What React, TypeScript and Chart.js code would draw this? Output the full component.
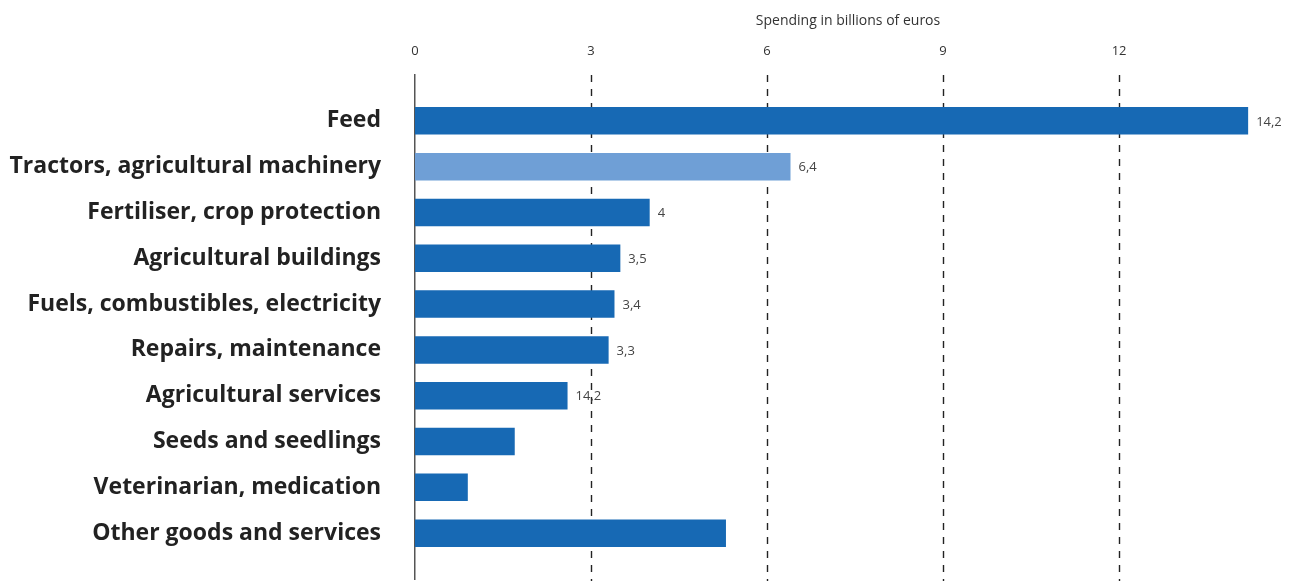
import React, { useEffect, useRef } from "react";
import { Chart, registerables } from "chart.js";

Chart.register(...registerables);

const categories = [
  "Feed",
  "Tractors, agricultural machinery",
  "Fertiliser, crop protection",
  "Agricultural buildings",
  "Fuels, combustibles, electricity",
  "Repairs, maintenance",
  "Agricultural services",
  "Seeds and seedlings",
  "Veterinarian, medication",
  "Other goods and services",
];

const spending = [14.2, 6.4, 4.0, 3.5, 3.4, 3.3, 2.6, 1.7, 0.9, 5.3];

const valueLabels = ["14,2", "6,4", "4", "3,5", "3,4", "3,3", "14,2", "", "", ""];

const xTicks = [0, 3, 6, 9, 12];

const axisTitle = "Spending in billions of euros";

const DARK = "#1769b4";
const LIGHT = "#6f9fd6";

export default function App() {
  const ref = useRef<HTMLCanvasElement | null>(null);

  useEffect(() => {
    document.body.style.margin = "0";
    const canvas = ref.current;
    if (!canvas) return;

    const labels = ["", ...categories, ""];
    const data = [null, ...spending, null];
    const texts = ["", ...valueLabels, ""];
    const colors = labels.map((_, i) => (i === 2 ? LIGHT : DARK));

    const dashedGridPlugin = {
      id: "dashedGrid",
      beforeDatasetsDraw(chart: any) {
        const { ctx, chartArea } = chart;
        const xs = chart.scales.x;
        ctx.save();
        ctx.strokeStyle = "#222";
        ctx.lineWidth = 1.4;
        ctx.setLineDash([7, 7]);
        xTicks.forEach((v) => {
          if (v === 0) return;
          const px = Math.round(xs.getPixelForValue(v)) + 0.5;
          ctx.beginPath();
          ctx.moveTo(px, chartArea.top);
          ctx.lineTo(px, chartArea.bottom + 2);
          ctx.stroke();
        });
        ctx.restore();
      },
    };

    const valueLabelPlugin = {
      id: "valueLabels",
      afterDatasetsDraw(chart: any) {
        const ctx = chart.ctx;
        const meta = chart.getDatasetMeta(0);
        ctx.save();
        ctx.font = "13px 'Open Sans'";
        ctx.fillStyle = "#444";
        ctx.textAlign = "left";
        ctx.textBaseline = "middle";
        meta.data.forEach((el: any, i: number) => {
          const t = texts[i];
          if (!t || data[i] == null) return;
          ctx.fillText(t, el.x + 8, el.y + 1);
        });
        ctx.restore();
      },
    };

    const chart = new Chart(canvas, {
      type: "bar",
      data: {
        labels,
        datasets: [
          {
            data: data as any,
            backgroundColor: colors,
            barPercentage: 0.6,
            categoryPercentage: 1,
          },
        ],
      },
      options: {
        indexAxis: "y",
        animation: false,
        responsive: false,
        devicePixelRatio: 1,
        layout: { padding: { top: 0, right: 19, bottom: 2, left: 0 } },
        plugins: {
          legend: { display: false },
          tooltip: { enabled: false },
        },
        scales: {
          x: {
            position: "top",
            min: 0,
            max: 14.76,
            afterBuildTicks: (scale: any) => {
              scale.ticks = xTicks.map((v) => ({ value: v }));
            },
            afterFit: (scale: any) => {
              scale.height = 75;
            },
            border: { display: false },
            grid: { display: false, drawTicks: false },
            ticks: {
              padding: 16,
              color: "#333",
              font: { family: "'Open Sans'", size: 13 },
            },
            title: {
              display: true,
              text: axisTitle,
              color: "#333",
              font: { family: "'Open Sans'", size: 14 },
              padding: { top: 13, bottom: 0 },
            },
          },
          y: {
            afterFit: (scale: any) => {
              scale.width = 415;
              scale.paddingTop = 0;
              scale.paddingBottom = 0;
            },
            offset: false,
            border: { display: true, color: "#555", width: 1.5 },
            grid: { display: false, drawTicks: false },
            ticks: {
              padding: 34,
              color: "#222",
              font: { family: "'Open Sans'", size: 23, weight: "bold" },
              autoSkip: false,
            },
          },
        },
      },
      plugins: [dashedGridPlugin, valueLabelPlugin],
    });

    return () => chart.destroy();
  }, []);

  return (
    <div style={{ width: 1300, height: 581 }}>
      <canvas ref={ref} width={1300} height={581} />
    </div>
  );
}
